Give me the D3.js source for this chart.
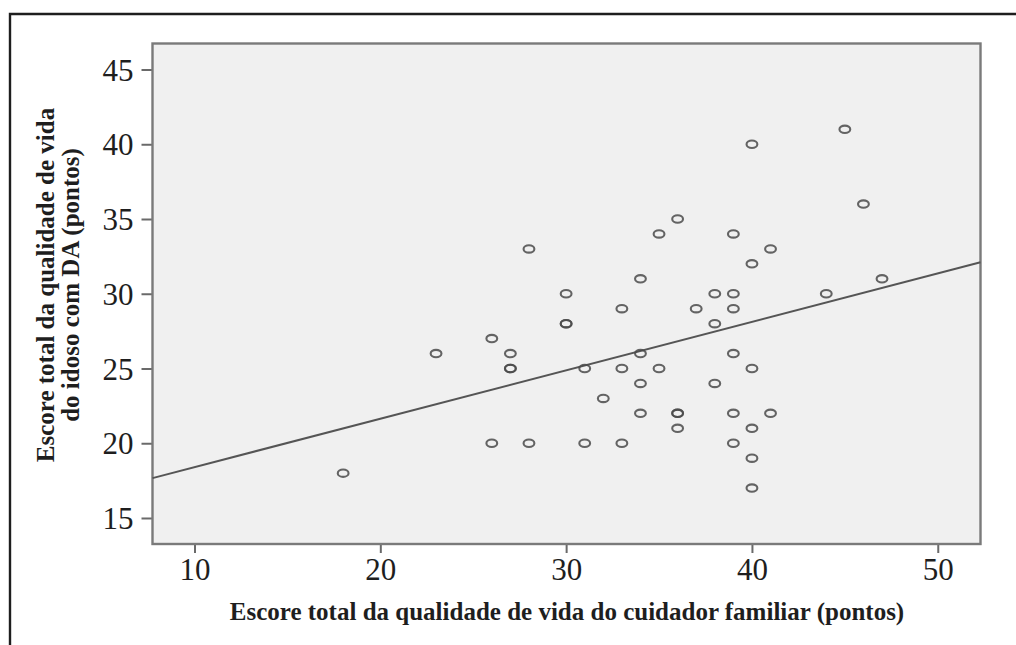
<!DOCTYPE html>
<html>
<head>
<meta charset="utf-8">
<script src="https://cdn.jsdelivr.net/npm/d3@7"></script>
<style>
  html, body { margin: 0; padding: 0; background: #fff; }
  svg { display: block; }
</style>
</head>
<body>
<svg id="chart" width="1016" height="645"></svg>
<script>
// ---- data ----
const caregiverScore = [18, 23, 26, 26, 27, 27, 27, 28, 28, 30, 30, 30, 31, 31, 32, 33, 33, 33,
  34, 34, 34, 34, 35, 35, 36, 36, 36, 36, 37, 38, 38, 38, 39, 39, 39, 39, 39, 39,
  40, 40, 40, 40, 40, 40, 41, 41, 44, 45, 46, 47];
const elderScore = [18, 26, 27, 20, 26, 25, 25, 33, 20, 30, 28, 28, 25, 20, 23, 29, 25, 20,
  31, 26, 24, 22, 34, 25, 35, 22, 22, 21, 29, 30, 28, 24, 34, 30, 29, 26, 22, 20,
  40, 32, 25, 21, 19, 17, 33, 22, 30, 41, 36, 31];
const xTicks = [10, 20, 30, 40, 50];
const yTicks = [15, 20, 25, 30, 35, 40, 45];
const xDomain = [7.74, 52.3];
const yDomain = [13.26, 46.74];
const fitIntercept = 15.16;
const fitSlope = 0.324;
const xTitle = "Escore total da qualidade de vida do cuidador familiar (pontos)";
const yTitleLines = ["Escore total da qualidade de vida", "do idoso com DA (pontos)"];

// ---- layout ----
const svg = d3.select("#chart");
const plot = { left: 152.5, top: 43.5, right: 980.5, bottom: 544 };
const x = d3.scaleLinear().domain(xDomain).range([plot.left, plot.right]);
const y = d3.scaleLinear().domain(yDomain).range([plot.bottom, plot.top]);

// outer frame (top and left edges visible)
svg.append("path")
  .attr("d", "M10,645 L10,14 L1016,14")
  .attr("fill", "none").attr("stroke", "#1e1e1e").attr("stroke-width", 2.4);

// plot background
svg.append("rect")
  .attr("x", plot.left).attr("y", plot.top)
  .attr("width", plot.right - plot.left).attr("height", plot.bottom - plot.top)
  .attr("fill", "#f0f0f0");

const serif = "'Liberation Serif', 'DejaVu Serif', serif";

// axes
const xAxis = svg.append("g")
  .attr("transform", `translate(0,${plot.bottom})`)
  .call(d3.axisBottom(x).tickValues(xTicks).tickSize(9).tickPadding(5).tickFormat(d3.format("d")));
const yAxis = svg.append("g")
  .attr("transform", `translate(${plot.left},0)`)
  .call(d3.axisLeft(y).tickValues(yTicks).tickSize(11).tickPadding(8).tickFormat(d3.format("d")));
[xAxis, yAxis].forEach(g => {
  g.select(".domain").remove();
  g.selectAll(".tick line").attr("stroke", "#6a6a6a").attr("stroke-width", 2);
  g.selectAll(".tick text")
    .attr("fill", "#1e1e1e")
    .style("font-family", serif)
    .style("font-size", "31px");
});
xAxis.selectAll(".tick text").attr("dy", "0.72em");
yAxis.selectAll(".tick text").attr("dy", "0.34em");

// plot border
svg.append("rect")
  .attr("x", plot.left).attr("y", plot.top)
  .attr("width", plot.right - plot.left).attr("height", plot.bottom - plot.top)
  .attr("fill", "none").attr("stroke", "#7a7a7a").attr("stroke-width", 2.4);

// regression line
svg.append("line")
  .attr("x1", x(xDomain[0])).attr("y1", y(fitIntercept + fitSlope * xDomain[0]))
  .attr("x2", x(xDomain[1])).attr("y2", y(fitIntercept + fitSlope * xDomain[1]))
  .attr("stroke", "#555").attr("stroke-width", 2);

// points
svg.append("g").selectAll("ellipse")
  .data(caregiverScore.map((d, i) => [d, elderScore[i]]))
  .join("ellipse")
  .attr("cx", d => x(d[0])).attr("cy", d => y(d[1]))
  .attr("rx", 5.4).attr("ry", 3.7)
  .attr("fill", "none").attr("stroke", "#4a4a4a").attr("stroke-width", 2.1)
  .attr("stroke-opacity", 0.85);

// axis titles
svg.append("text")
  .attr("x", 567).attr("y", 620)
  .attr("text-anchor", "middle")
  .attr("fill", "#1e1e1e")
  .style("font-family", serif).style("font-weight", "bold").style("font-size", "25px")
  .text(xTitle);

const yt = svg.append("g").attr("transform", "translate(0,285) rotate(-90)");
yTitleLines.forEach((t, i) => {
  yt.append("text")
    .attr("x", 0).attr("y", 54 + i * 25)
    .attr("text-anchor", "middle")
    .attr("fill", "#1e1e1e")
    .style("font-family", serif).style("font-weight", "bold").style("font-size", "25px")
    .text(t);
});
</script>
</body>
</html>
